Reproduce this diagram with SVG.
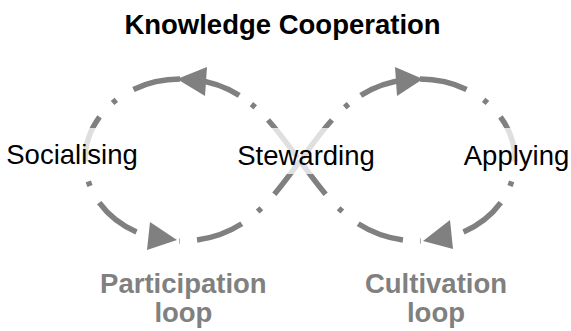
<svg xmlns="http://www.w3.org/2000/svg" width="571" height="331" viewBox="0 0 571 331">
<style>
.ln{fill:none;stroke:#808080;stroke-width:5.5;stroke-linecap:butt}
.o{stroke-dasharray:48 20 5 19;stroke-dashoffset:0}
.i1{stroke-dasharray:48 20 5 19;stroke-dashoffset:75}
.i2{stroke-dasharray:48 18 5 15;stroke-dashoffset:82}
.ah{fill:#808080}
.lbl{font-family:"Liberation Sans",Arial,sans-serif;font-size:27.5px;fill:#000;text-anchor:middle}
.ttl{font-family:"Liberation Sans",Arial,sans-serif;font-size:27.5px;font-weight:bold;fill:#000;text-anchor:middle}
.loop{font-family:"Liberation Sans",Arial,sans-serif;font-size:27.5px;font-weight:bold;fill:#808080;text-anchor:middle}
.bg{fill:#fff;fill-opacity:0.75}
</style>
<g id="connectors">
<path class="ln o" d="M180,79 C128,79 85,115 85,160 C85,205 128,241 180,241"/>
<path class="ln o" d="M420,79 C472,79 515,115 515,160 C515,205 472,241 420,241"/>
<path class="ln i1" d="M180,241 C245,241 273,197 300,161"/>
<path class="ln i1" d="M420,241 C355,241 327,197 300,161"/>
<path class="ln i2" d="M300,161 C327,125 355,79 420,79"/>
<path class="ln i2" d="M300,161 C273,125 245,79 180,79"/>
<polygon class="ah" points="177,79 207,67 205,96"/>
<polygon class="ah" points="177,240 150,222 147,250"/>
<polygon class="ah" points="423,79 395,67 397,96"/>
<polygon class="ah" points="423,241 450,220 453,249"/>
</g>
<g id="title"><text class="ttl" x="282.5" y="33.5">Knowledge Cooperation</text></g>
<g id="socialising"><rect class="bg" x="6" y="128" width="133" height="40"/><text class="lbl" x="72" y="163.5">Socialising</text></g>
<g id="stewarding"><rect class="bg" x="237" y="128" width="139" height="46"/><text class="lbl" x="306" y="165">Stewarding</text></g>
<g id="applying"><rect class="bg" x="464" y="128" width="105" height="40"/><text class="lbl" x="516.5" y="165">Applying</text></g>
<g id="participation"><text class="loop" x="183.4" y="293">Participation</text><text class="loop" x="183.4" y="322">loop</text></g>
<g id="cultivation"><text class="loop" x="436" y="293">Cultivation</text><text class="loop" x="436" y="322">loop</text></g>
</svg>
